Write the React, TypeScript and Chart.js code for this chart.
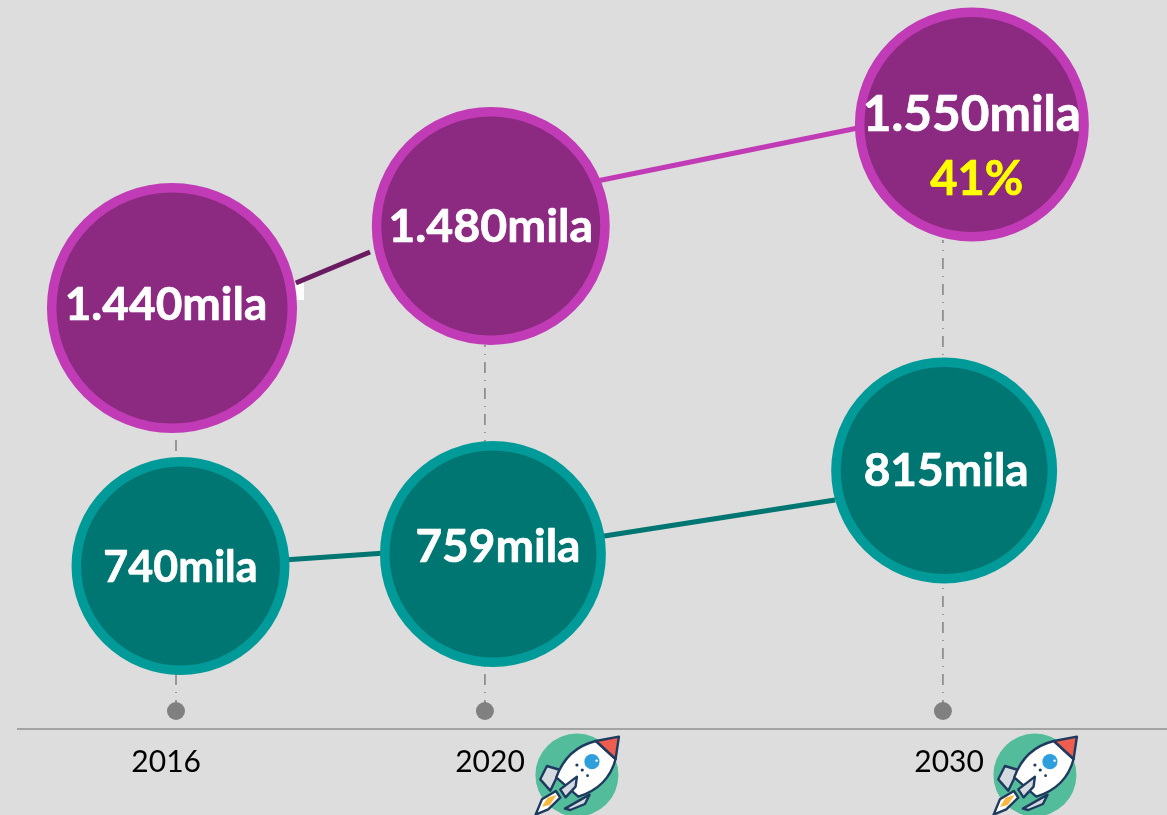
import React, { useEffect, useRef } from "react";
import { Chart, registerables } from "chart.js";

Chart.register(...registerables);

// Category positions on the (non-uniform) time axis of the infographic, in "slots".
const years = ["2016", "2020", "2030"];
const yearSlots = [0, 1.003, 2.49];
const yearLabelSlots = [-0.032, 1.0195, 2.51];

// Values printed in the bubbles
const purpleLabels = ["1.440mila", "1.480mila", "1.550mila"];
const tealLabels = ["740mila", "759mila", "815mila"];
const shareLabel = "41%";

// Plotted heights (height above the baseline)
const purpleSlots = [-0.013, 1.022, 2.584];
const purpleHeights = [421, 503, 604.5];
const tealSlots = [0.0146, 1.029, 2.494];
const tealHeights = [163, 175, 258.5];

const purpleLinkA = [{ x: 0.389, y: 446 }, { x: 0.63, y: 477 }];
const purpleLinkB = [{ x: 1.367, y: 548 }, { x: 2.214, y: 601 }];
const tealLinkA = [{ x: 0.35, y: 169 }, { x: 0.68, y: 176 }];
const tealLinkB = [{ x: 1.37, y: 192 }, { x: 2.14, y: 229 }];
const guideTops = [296, 384, 489];
const guideFoot = 18;

const BG = "#DDDDDD";

function rocket(ctx: CanvasRenderingContext2D, cx: number, cy: number) {
  // coordinates are 3x units around the badge centre
  const p = (x: number, y: number): [number, number] => [cx + (x - 408) / 3, cy + (y - 345) / 3];
  const poly = (pts: number[][], fill: string) => {
    ctx.beginPath();
    pts.forEach((q, i) => {
      const [x, y] = p(q[0], q[1]);
      if (i === 0) ctx.moveTo(x, y);
      else ctx.lineTo(x, y);
    });
    ctx.closePath();
    ctx.fillStyle = fill;
    ctx.fill();
    ctx.stroke();
  };
  const dot = (x: number, y: number, r: number, fill: string) => {
    const [a, b] = p(x, y);
    ctx.beginPath();
    ctx.arc(a, b, r, 0, Math.PI * 2);
    ctx.fillStyle = fill;
    ctx.fill();
  };
  ctx.save();
  dot(408, 345, 41.5, "#52BC9B");
  ctx.strokeStyle = "#1F3A5F";
  ctx.lineWidth = 2.4;
  ctx.lineJoin = "round";
  poly([[318, 318], [358, 330], [328, 392], [298, 358]], "#D5DAE0");
  poly([[372, 446], [446, 404], [432, 432], [388, 450]], "#D5DAE0");
  ctx.beginPath();
  const m = p(346, 352);
  ctx.moveTo(m[0], m[1]);
  let a = p(378, 264), b = p(465, 243);
  ctx.quadraticCurveTo(a[0], a[1], b[0], b[1]);
  b = p(524, 297);
  ctx.lineTo(b[0], b[1]);
  a = p(502, 382);
  b = p(412, 410);
  ctx.quadraticCurveTo(a[0], a[1], b[0], b[1]);
  ctx.closePath();
  ctx.fillStyle = "#FFFFFF";
  ctx.fill();
  ctx.stroke();
  poly([[358, 388], [408, 350], [404, 380], [374, 412]], "#D5DAE0");
  poly([[465, 243], [534, 230], [524, 297]], "#EE5D4E");
  poly([[284, 464], [303, 418], [345, 393], [358, 413], [322, 448]], "#FFFFFF");
  ctx.beginPath();
  [[303, 440], [320, 413], [347, 405], [327, 435]].forEach((q, i) => {
    const [x, y] = p(q[0], q[1]);
    if (i === 0) ctx.moveTo(x, y);
    else ctx.lineTo(x, y);
  });
  ctx.closePath();
  ctx.fillStyle = "#F9B73F";
  ctx.fill();
  dot(453, 305, 7.6, "#2E9FDC");
  dot(467, 302, 1.2, "#FFFFFF");
  dot(408, 315, 1.6, "#1F3A5F");
  dot(424, 330, 1.6, "#1F3A5F");
  dot(440, 347, 1.4, "#1F3A5F");
  ctx.restore();
}

const decorations = {
  id: "decorations",
  beforeDraw(chart: any) {
    const { ctx, width, height } = chart;
    ctx.save();
    ctx.fillStyle = BG;
    ctx.fillRect(0, 0, width, height);
    ctx.restore();
  },
  beforeDatasetsDraw(chart: any) {
    const { ctx } = chart;
    const el = chart.getDatasetMeta(0).data[0];
    ctx.save();
    ctx.fillStyle = "#FFFFFF";
    ctx.fillRect(el.x + 123, el.y - 26, 9, 18);
    ctx.restore();
  },
  afterDatasetsDraw(chart: any) {
    const { ctx, scales } = chart;
    const put = (text: string, x: number, y: number, color: string, size: number) => {
      ctx.font = `700 ${size}px Lato`;
      ctx.fillStyle = color;
      ctx.strokeStyle = color;
      ctx.lineWidth = 0.7;
      ctx.lineJoin = "round";
      ctx.strokeText(text, x, y);
      ctx.fillText(text, x, y);
    };
    ctx.save();
    ctx.textAlign = "center";
    ctx.textBaseline = "middle";
    const purple = chart.getDatasetMeta(0).data;
    const teal = chart.getDatasetMeta(1).data;
    const pOff = [[-6, -3], [0, 1], [0, -9]];
    const tOff = [[0, 2], [5, -7], [2, 1]];
    const pSize = [46, 46.5, 49.5];
    const tSize = [43, 46, 46];
    purpleLabels.forEach((t, i) => put(t, purple[i].x + pOff[i][0], purple[i].y + pOff[i][1], "#FFFFFF", pSize[i]));
    tealLabels.forEach((t, i) => put(t, teal[i].x + tOff[i][0], teal[i].y + tOff[i][1], "#FFFFFF", tSize[i]));
    put(shareLabel, purple[2].x + 5, purple[2].y + 55, "#FFFF00", 47);
    const baseY = scales.y.getPixelForValue(0);
    [1, 2].forEach((i) => rocket(ctx, scales.x.getPixelForValue(yearSlots[i]) + 92, baseY + 46));
    ctx.restore();
  },
};

export default function App() {
  const ref = useRef<HTMLCanvasElement>(null);
  useEffect(() => {
    document.body.style.margin = "0";
    document.body.style.background = BG;
    const bubble = (xs: number[], ys: number[], radius: number[], fill: string, border: string, width: number) => ({
      type: "line" as const,
      data: xs.map((x, i) => ({ x, y: ys[i] })),
      showLine: false,
      pointRadius: radius,
      pointHoverRadius: radius,
      pointBackgroundColor: fill,
      pointBorderColor: border,
      pointBorderWidth: width,
      order: 1,
      clip: false,
    });
    const link = (data: { x: number; y: number }[], color: string, width: number) => ({
      type: "line" as const,
      data,
      borderColor: color,
      borderWidth: width,
      pointRadius: 0,
      order: 2,
      clip: false,
    });
    const guide = (i: number) => ({
      type: "line" as const,
      data: [
        { x: yearSlots[i], y: guideFoot },
        { x: yearSlots[i], y: guideTops[i] },
      ],
      borderColor: "#808080",
      borderWidth: 1.5,
      borderDash: [11, 7, 1, 7],
      pointRadius: [9, 0],
      pointBackgroundColor: "#808080",
      pointBorderWidth: 0,
      order: 3,
      clip: false,
    });
    const chart = new Chart(ref.current!, {
      type: "line",
      data: {
        datasets: [
          bubble(purpleSlots, purpleHeights, [120.3, 114.2, 112.2], "#8B2A80", "#C03BB5", 9.5),
          bubble(tealSlots, tealHeights, [104.2, 108.2, 108.2], "#007672", "#009A99", 9.5),
          link(purpleLinkA, "#6A1B62", 5),
          link(purpleLinkB, "#C03BB5", 5),
          link(tealLinkA, "#007672", 5),
          link(tealLinkB, "#007672", 5),
          guide(0),
          guide(1),
          guide(2),
        ] as any,
      },
      options: {
        animation: false,
        responsive: false,
        events: [],
        layout: { autoPadding: false, padding: { left: 18, right: 0, top: 0, bottom: 0 } },
        plugins: { legend: { display: false }, tooltip: { enabled: false } },
        scales: {
          x: {
            type: "linear",
            min: (18 - 176) / 308,
            max: (1167 - 176) / 308,
            grid: { display: false, drawTicks: false },
            border: { display: true, color: "#A3A3A3", width: 2 },
            afterFit: (s: any) => { s.height = 86; },
            afterBuildTicks: (s: any) => { s.ticks = yearLabelSlots.map((value) => ({ value })); },
            ticks: {
              autoSkip: false,
              maxRotation: 0,
              padding: 15,
              color: "#000000",
              font: { family: "Lato", size: 30 },
              callback: (v: any) => years[yearLabelSlots.indexOf(v)] ?? "",
            },
          },
          y: { type: "linear", min: 0, max: 729, display: false },
        },
      },
      plugins: [decorations],
    } as any);
    return () => chart.destroy();
  }, []);
  return <canvas ref={ref} width={1167} height={815} style={{ display: "block" }} />;
}
